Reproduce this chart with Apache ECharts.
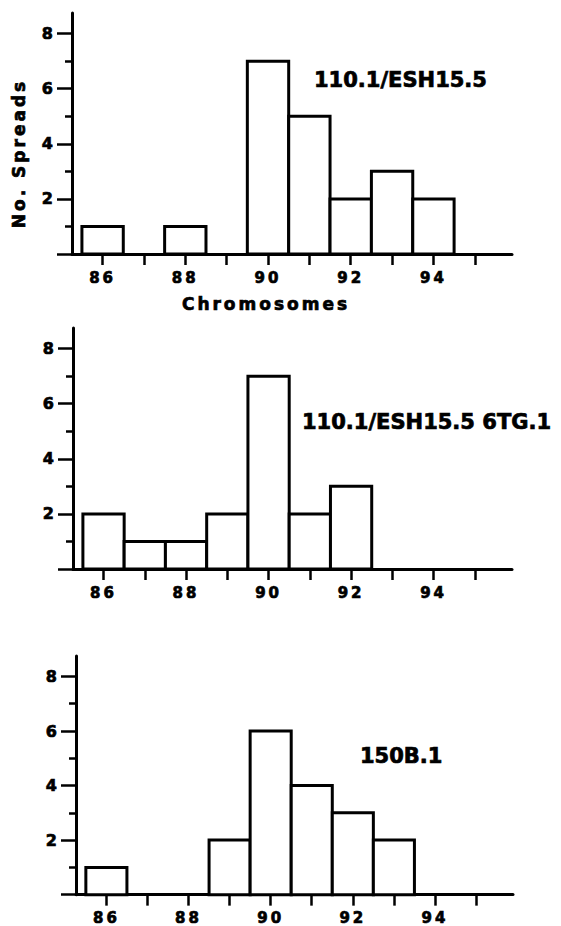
<!DOCTYPE html>
<html>
<head>
<meta charset="utf-8">
<script src="https://cdn.jsdelivr.net/npm/echarts@6/dist/echarts.min.js"></script>
<style>
  html, body { margin: 0; padding: 0; background: #fff; }
  #chart { width: 561px; height: 926px; }
  /* spaced-out lettering of the axis labels / names (svg renderer) */
  #chart svg text[style*="15px"], #chart svg text[style*="17px"] { letter-spacing: 3px; }
</style>
</head>
<body>
<div id="chart"></div>
<script>
// chromosome counts (bin centres) and number of spreads per panel
const chromosomes = [86, 87, 88, 89, 90, 91, 92, 93, 94];
const spreadsA = [1, 0, 1, 0, 7, 5, 2, 3, 2];   // 110.1/ESH15.5
const spreadsB = [2, 1, 1, 2, 7, 2, 3, 0, 0];   // 110.1/ESH15.5 6TG.1
const spreadsC = [1, 0, 0, 2, 6, 4, 3, 2, 0];   // 150B.1
const panelNames = ['110.1/ESH15.5', '110.1/ESH15.5 6TG.1', '150B.1'];

const xTicks = [86, 87, 88, 89, 90, 91, 92, 93, 94, 95];
const xLabels = [86, 88, 90, 92, 94];
const yMajor = [0, 2, 4, 6, 8];
const yMinor = [1, 3, 5, 7];
const yLabels = [2, 4, 6, 8];

const chartDom = document.getElementById('chart');
const chart = echarts.init(chartDom, null, { renderer: 'svg' });

const ink = '#000';
const font = 'DejaVu Sans';
// heavy lettering like the original print
const heavy = { color: ink, fontFamily: font, fontWeight: 'bold', textBorderColor: ink, textBorderWidth: 0.7 };

const grids = [
  { left: 72, top: 13, width: 440, height: 241 },
  { left: 73, top: 328, width: 439, height: 241 },
  { left: 76, top: 656, width: 437, height: 241 }
];
const titlePos = [
  { left: 314, top: 69 },
  { left: 302, top: 411 },
  { left: 360, top: 745 }
];

function renderBar(params, api) {
  const x = api.value(0);
  const n = api.value(1);
  if (!n) return null;
  const p0 = api.coord([x - 0.5, n]);
  const p1 = api.coord([x + 0.5, 0]);
  return {
    type: 'rect',
    shape: { x: p0[0], y: p0[1], width: p1[0] - p0[0], height: p1[1] - p0[1] },
    style: { fill: '#fff', stroke: ink, lineWidth: 3 }
  };
}

const xAxis = [];
const yAxis = [];
const series = [];
const title = [];

[spreadsA, spreadsB, spreadsC].forEach(function (vals, i) {
  xAxis.push({
    type: 'value',
    gridIndex: i,
    min: 85.26,
    max: 95.9,
    splitLine: { show: false },
    axisLine: { lineStyle: { color: ink, width: 3 } },
    axisTick: { customValues: xTicks, length: 11, lineStyle: { color: ink, width: 2.5 } },
    axisLabel: Object.assign({ customValues: xLabels, margin: 16, fontSize: 15 }, heavy),
    name: i === 0 ? 'Chromosomes' : '',
    nameLocation: 'middle',
    nameGap: 41,
    nameTextStyle: Object.assign({ fontSize: 17, padding: [0, 52, 0, 0] }, heavy)
  });
  // main y axis: line, long ticks, labels
  yAxis.push({
    type: 'value',
    gridIndex: i,
    position: 'left',
    min: 0,
    max: 8.75,
    splitLine: { show: false },
    axisLine: { show: true, lineStyle: { color: ink, width: 3 } },
    axisTick: { show: true, customValues: yMajor, length: 15, lineStyle: { color: ink, width: 2.5 } },
    axisLabel: Object.assign({ customValues: yLabels, margin: 19, fontSize: 16 }, heavy),
    name: i === 0 ? 'No. Spreads' : '',
    nameLocation: 'middle',
    nameGap: 45,
    nameTextStyle: Object.assign({ fontSize: 17, padding: [0, 40, 0, 0] }, heavy)
  });
  // second y axis only for the short odd ticks
  yAxis.push({
    type: 'value',
    gridIndex: i,
    position: 'left',
    min: 0,
    max: 8.75,
    splitLine: { show: false },
    axisLine: { show: false },
    axisTick: { show: true, customValues: yMinor, length: 7, lineStyle: { color: ink, width: 2.5 } },
    axisLabel: { show: false }
  });
  series.push({
    type: 'custom',
    xAxisIndex: i,
    yAxisIndex: i * 2,
    renderItem: renderBar,
    data: chromosomes.map(function (c, k) { return [c, vals[k]]; })
  });
  title.push({
    text: panelNames[i],
    left: titlePos[i].left,
    top: titlePos[i].top,
    padding: 0,
    textStyle: Object.assign({ fontSize: 21 }, heavy)
  });
});

chart.setOption({
  backgroundColor: '#fff',
  animation: false,
  title: title,
  grid: grids,
  xAxis: xAxis,
  yAxis: yAxis,
  series: series
});
</script>
</body>
</html>
